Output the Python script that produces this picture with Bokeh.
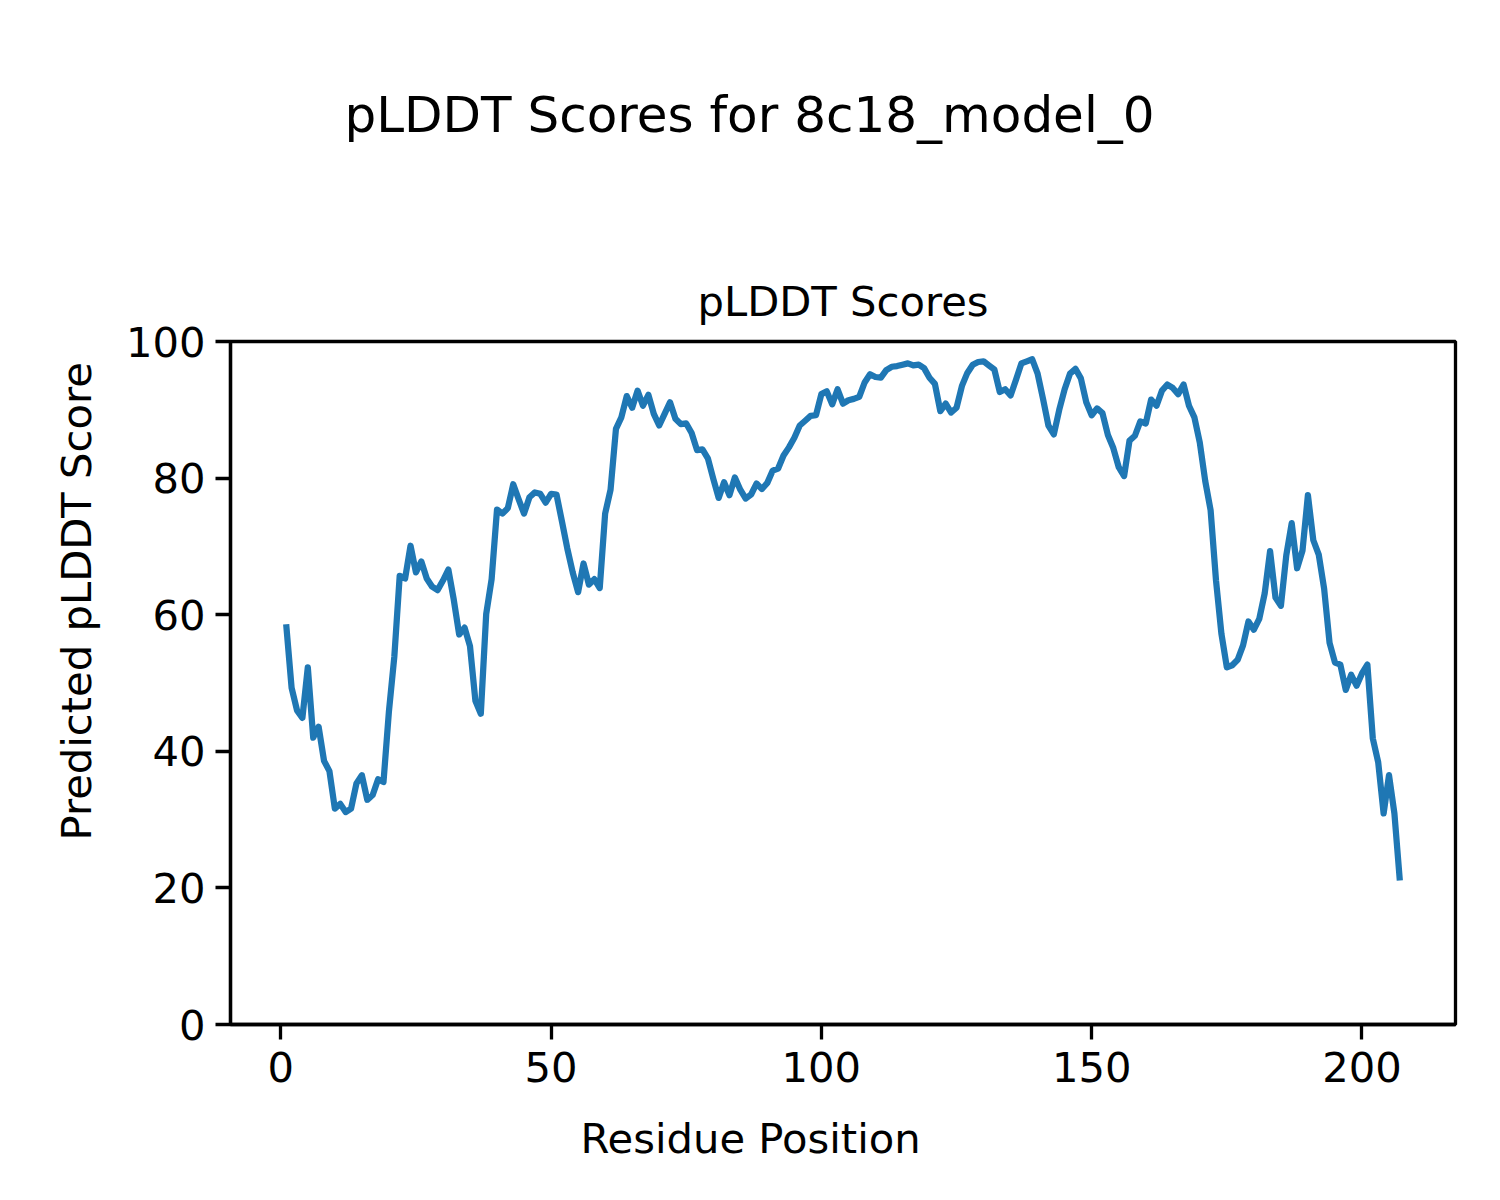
from bokeh.plotting import figure
from bokeh.models import Title, FixedTicker
from bokeh.embed import file_html
from bokeh.resources import INLINE

residues = list(range(1, 208))
plddt = [
    58.6, 49.3, 46.0, 44.9, 52.3, 42.0, 43.6, 38.6, 37.1, 31.6,
    32.3, 31.1, 31.6, 35.3, 36.5, 32.9, 33.6, 35.9, 35.5, 45.8,
    53.8, 65.7, 65.3, 70.1, 66.2, 67.8, 65.3, 64.1, 63.6, 65.0,
    66.6, 62.2, 57.1, 58.1, 55.4, 47.4, 45.5, 60.1, 65.2, 75.4,
    74.8, 75.6, 79.1, 76.9, 74.8, 77.2, 77.9, 77.7, 76.4, 77.7,
    77.6, 73.7, 69.7, 66.2, 63.3, 67.5, 64.4, 65.2, 63.9, 74.8,
    78.3, 87.2, 88.9, 92.0, 90.3, 92.8, 90.6, 92.2, 89.4, 87.7,
    89.4, 91.1, 88.7, 87.9, 88.0, 86.6, 84.1, 84.2, 82.9, 79.9,
    77.1, 79.4, 77.5, 80.1, 78.3, 77.0, 77.6, 79.2, 78.4, 79.3,
    81.1, 81.4, 83.3, 84.5, 85.9, 87.7, 88.4, 89.1, 89.2, 92.3,
    92.7, 90.8, 93.0, 90.9, 91.4, 91.6, 91.9, 94.0, 95.2, 94.8,
    94.7, 95.8, 96.3, 96.4, 96.6, 96.8, 96.5, 96.6, 96.1, 94.7,
    93.8, 89.8, 90.9, 89.6, 90.3, 93.5, 95.4, 96.6, 97.0, 97.1,
    96.5, 95.9, 92.6, 93.0, 92.1, 94.4, 96.8, 97.1, 97.4, 95.3,
    91.6, 87.7, 86.4, 90.0, 93.0, 95.3, 96.0, 94.6, 91.1, 89.2,
    90.2, 89.5, 86.3, 84.4, 81.6, 80.3, 85.5, 86.2, 88.3, 88.0,
    91.5, 90.6, 92.8, 93.7, 93.2, 92.3, 93.7, 90.6, 88.9, 85.2,
    79.6, 75.3, 65.0, 57.2, 52.3, 52.6, 53.4, 55.5, 59.0, 57.8,
    59.4, 63.1, 69.3, 62.5, 61.3, 68.7, 73.4, 66.8, 69.4, 77.5,
    70.9, 68.8, 63.8, 55.9, 53.0, 52.7, 49.0, 51.2, 49.6, 51.4,
    52.7, 41.9, 38.4, 30.9, 36.5, 30.9, 21.1,
]
x_ticks = [0, 50, 100, 150, 200]
y_ticks = [0, 20, 40, 60, 80, 100]

suptitle_text = "pLDDT Scores for 8c18_model_0"
axes_title_text = "pLDDT Scores"
x_label_text = "Residue Position"
y_label_text = "Predicted pLDDT Score"

FONT = "DejaVu Sans"
SIZE = "41.7px"

xpad = (max(residues) - min(residues)) * 0.05

p = figure(
    width=1484, height=1184,
    x_range=(min(residues) - xpad, max(residues) + xpad),
    y_range=(0, 100),
    output_backend="svg", toolbar_location=None,
    title_location=None,
    min_border_left=230, min_border_right=29,
    min_border_top=341, min_border_bottom=160,
)
p.background_fill_color = "white"
p.border_fill_color = "white"
p.grid.visible = False
p.outline_line_color = "black"
p.outline_line_width = 3.3

for ax in (p.xaxis[0], p.yaxis[0]):
    ax.axis_line_width = 3.3
    ax.axis_line_color = "black"
    ax.major_tick_line_width = 3.3
    ax.major_tick_out = 15
    ax.major_tick_in = 0
    ax.minor_tick_line_color = None
    ax.major_label_text_font = FONT
    ax.major_label_text_font_size = SIZE
    ax.major_label_text_color = "black"
p.xaxis.major_label_standoff = 12
p.yaxis.major_label_standoff = 10

p.xaxis.ticker = FixedTicker(ticks=x_ticks)
p.yaxis.ticker = FixedTicker(ticks=y_ticks)

p.line(residues, plddt, line_width=6.25, line_color="#1f77b4", line_join="round")


def spacer(px):
    return Title(text=" ", text_font_size="1px", standoff=px)


axes_title = Title(text=axes_title_text, align="center", text_font=FONT,
                   text_font_size=SIZE, text_font_style="normal",
                   text_color="black", standoff=32)
p.add_layout(axes_title, "above")
p.add_layout(spacer(107), "above")
suptitle = Title(text=suptitle_text, align="left", offset=114, text_font=FONT,
                 text_font_size="50px", text_font_style="normal",
                 text_color="black", standoff=10)
p.add_layout(suptitle, "above")

ylab = Title(text=y_label_text, align="left", offset=184, text_font=FONT,
             text_font_size=SIZE, text_font_style="normal",
             text_color="black", standoff=44)
p.add_layout(ylab, "left")

p.add_layout(spacer(26), "below")
xlab = Title(text=x_label_text, align="left", offset=350, text_font=FONT,
             text_font_size=SIZE, text_font_style="normal",
             text_color="black", vertical_align="top", standoff=0)
p.add_layout(xlab, "below")

open("out.html", "w").write(file_html(p, INLINE))
